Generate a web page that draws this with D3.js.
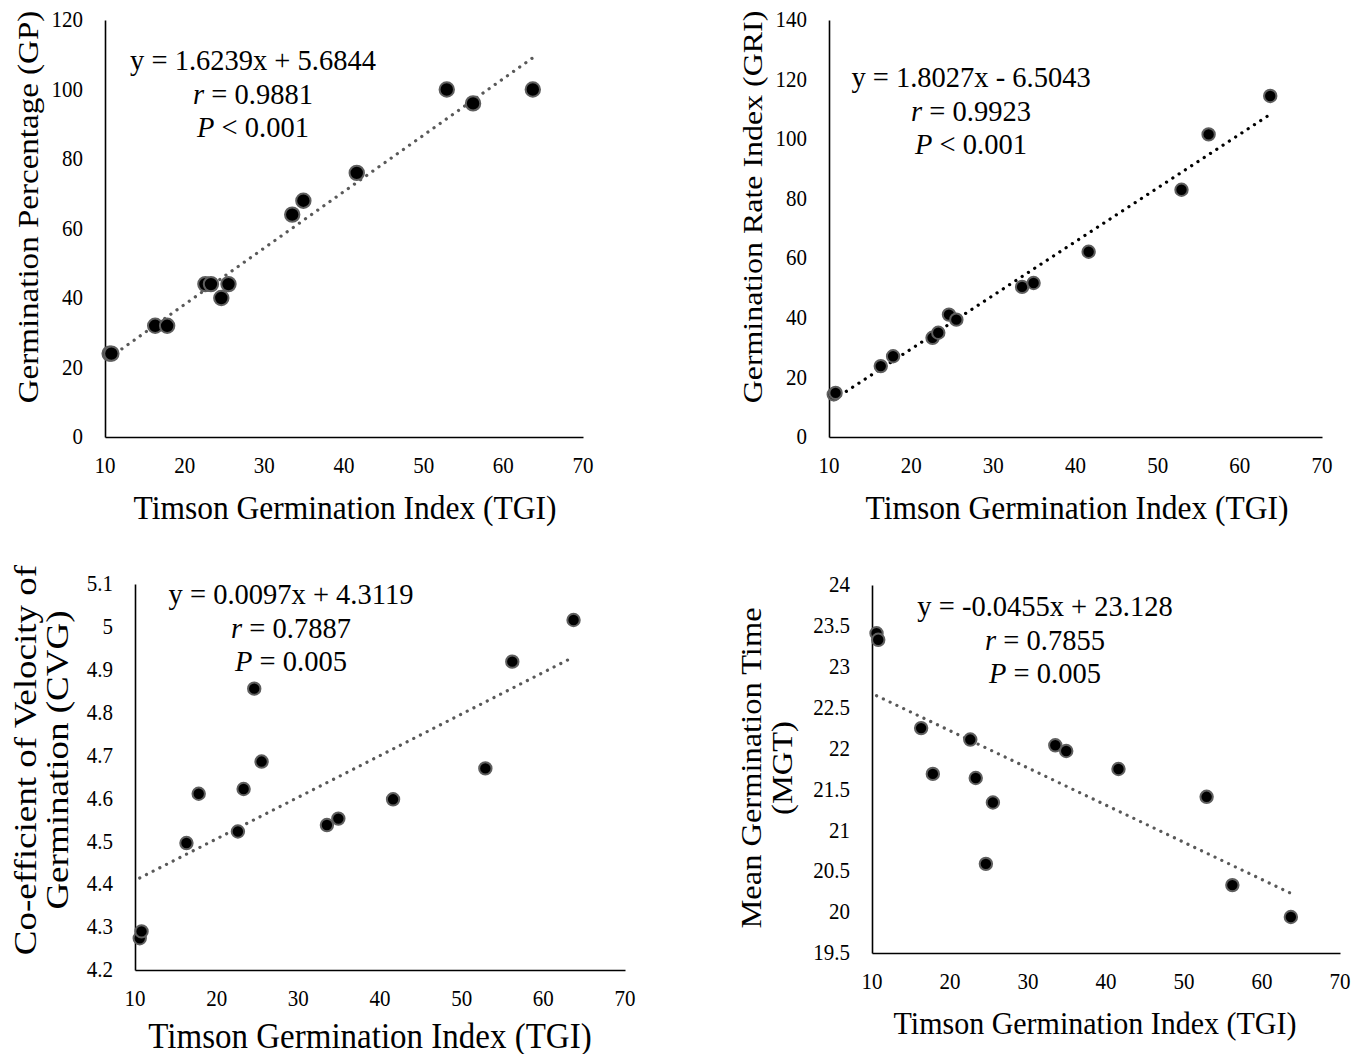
<!DOCTYPE html>
<html><head><meta charset="utf-8">
<script src="https://cdn.jsdelivr.net/npm/d3@7"></script>
<style>
body{margin:0;background:#fff;}
svg{display:block;font-family:"Liberation Serif","Times New Roman",serif;}
</style></head>
<body>
<svg id="c" width="1369" height="1054"></svg>
<script>
// ---- data ----
const tgi = [10.58, 10.8, 16.3, 17.8, 22.6, 23.3, 24.6, 25.5, 33.5, 34.9, 41.6, 52.9, 56.2, 63.7];
const gp  = [24, 24, 32, 32, 44, 44, 40, 44, 64, 68, 76, 100, 96, 100];
const gri = [14.3, 14.8, 23.8, 27.1, 33.3, 35.0, 41.1, 39.4, 50.4, 51.7, 62.2, 83.0, 101.6, 114.5];
const cvg = [4.274, 4.29, 4.496, 4.611, 4.523, 4.622, 4.856, 4.686, 4.538, 4.553, 4.598, 4.670, 4.919, 5.016];
const mgt = [23.41, 23.33, 22.25, 21.69, 22.11, 21.64, 20.59, 21.34, 22.04, 21.97, 21.75, 21.41, 20.33, 19.94];

const xTicks = [10, 20, 30, 40, 50, 60, 70];
const gpTicks = [0, 20, 40, 60, 80, 100, 120];
const griTicks = [0, 20, 40, 60, 80, 100, 120, 140];
const cvgTicks = [4.2, 4.3, 4.4, 4.5, 4.6, 4.7, 4.8, 4.9, 5.0, 5.1];
const mgtTicks = [19.5, 20, 20.5, 21, 21.5, 22, 22.5, 23, 23.5, 24];

const slopes = [1.6239, 1.8027, 0.0097, -0.0455];
const intercepts = [5.6844, -6.5043, 4.3119, 23.128];
const eqLabels = ["y = 1.6239x + 5.6844", "y = 1.8027x - 6.5043", "y = 0.0097x + 4.3119", "y = -0.0455x + 23.128"];
const rLabels = ["0.9881", "0.9923", "0.7887", "0.7855"];
const pLabels = ["< 0.001", "< 0.001", "= 0.005", "= 0.005"];
const yTitles = [["Germination Percentage (GP)"], ["Germination Rate Index (GRI)"], ["Co-efficient of Velocity of", "Germination (CVG)"], ["Mean Germination Time", "(MGT)"]];
const xTitle = "Timson Germination Index (TGI)";

// ---- layout ----
const KH = 1.06;  // vertical glyph stretch for horizontal text
const KV = 1.14;  // stretch along rotated titles
const panels = [
  {vals: gp,  ticks: gpTicks,  L:105, R:583,  T:20,  B:437, lineCol:"#595959", r:7.2, ann:[253, 60],
   ytx:-77, yty:207, ytf:29, xtx:345, xty:71, xtf:31.5},
  {vals: gri, ticks: griTicks, L:829, R:1322, T:20,  B:437, lineCol:"#000000", r:6.2, ann:[971, 77],
   ytx:-77, yty:207, ytf:28, xtx:1077, xty:71, xtf:31.5},
  {vals: cvg, ticks: cvgTicks, L:135, R:625,  T:584, B:970, lineCol:"#595959", r:6.2, ann:[291, 594],
   ytx:-110, yty:760, ytf:32.5, dy2:32, xtx:370, xty:66, xtf:33},
  {vals: mgt, ticks: mgtTicks, L:872, R:1340, T:585, B:953, lineCol:"#595959", r:6.2, ann:[1045, 606],
   ytx:-120, yty:768, ytf:28.5, dy2:31, xtx:1095, xty:70, xtf:30}
];

const svg = d3.select("#c");
const fmt = v => String(+v.toFixed(1));

function txt(g, x, y, size, anchor, rotate) {
  const tr = rotate ? `translate(${x},${y}) scale(1,${KV}) rotate(-90)` : `translate(${x},${y}) scale(1,${KH})`;
  return g.append("text").attr("transform", tr)
    .attr("text-anchor", anchor).attr("dominant-baseline", "central")
    .attr("font-size", size).attr("fill", "#000");
}

panels.forEach((p, i) => {
  const x = d3.scaleLinear().domain([10, 70]).range([p.L, p.R]);
  const y = d3.scaleLinear().domain([p.ticks[0], p.ticks[p.ticks.length-1]]).range([p.B, p.T]);
  const g = svg.append("g");

  // axis lines
  const xa = g.append("g").attr("transform", `translate(0,${p.B})`)
    .call(d3.axisBottom(x).tickValues([]).tickSize(0));
  const ya = g.append("g").attr("transform", `translate(${p.L},0)`)
    .call(d3.axisLeft(y).tickValues([]).tickSize(0));
  [xa, ya].forEach(a => a.select(".domain").attr("stroke", "#000").attr("stroke-width", 1.6));

  // tick labels
  xTicks.forEach(v => txt(g, x(v), p.B + 29, 21, "middle").text(v));
  p.ticks.forEach(v => txt(g, p.L - 22, y(v), 21, "end").text(fmt(v)));

  // trend line
  const x0 = d3.min(tgi), x1 = d3.max(tgi);
  g.append("line")
    .attr("x1", x(x0)).attr("y1", y(slopes[i]*x0 + intercepts[i]))
    .attr("x2", x(x1)).attr("y2", y(slopes[i]*x1 + intercepts[i]))
    .attr("stroke", p.lineCol).attr("stroke-width", 3.2)
    .attr("stroke-linecap", "round").attr("stroke-dasharray", "0.1,7.4");

  // points
  g.selectAll("circle.pt").data(tgi.map((t, k) => [t, p.vals[k]])).join("circle")
    .attr("class", "pt")
    .attr("cx", d => x(d[0])).attr("cy", d => y(d[1]))
    .attr("r", p.r).attr("fill", "#000").attr("stroke", "#5f5f5f").attr("stroke-width", 2);

  // annotations
  const [ax, ay] = p.ann;
  txt(g, ax, ay, 28.5, "middle").text(eqLabels[i]);
  const t2 = txt(g, ax, ay + 33.5, 28.5, "middle");
  t2.append("tspan").attr("font-style", "italic").text("r");
  t2.append("tspan").text(" = " + rLabels[i]);
  const t3 = txt(g, ax, ay + 67, 28.5, "middle");
  t3.append("tspan").attr("font-style", "italic").text("P");
  t3.append("tspan").text(" " + pLabels[i]);

  // x title
  txt(g, p.xtx, p.B + p.xty, p.xtf, "middle").text(xTitle);

  // y title
  yTitles[i].forEach((ln, k) => {
    txt(g, p.L + p.ytx + k * (p.dy2 || 0), p.yty, p.ytf, "middle", true).text(ln);
  });
});
</script>
</body></html>
